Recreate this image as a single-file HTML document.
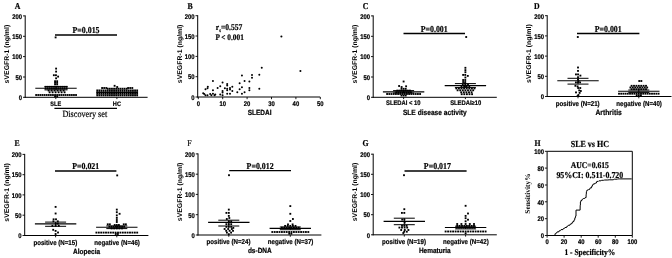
<!DOCTYPE html>
<html><head><meta charset="utf-8"><title>Figure</title>
<style>html,body{margin:0;padding:0;background:#fff}svg{display:block;text-rendering:geometricPrecision}</style></head>
<body>
<svg width="672" height="258" viewBox="0 0 672 258">
<rect width="672" height="258" fill="#fff"/>
<defs><filter id="soft" x="0" y="0" width="100%" height="100%" filterUnits="userSpaceOnUse"><feGaussianBlur stdDeviation="0.38"/></filter></defs>
<g filter="url(#soft)" stroke-linejoin="round">
<text transform="translate(17.5,8.77) scale(1,1.15)" font-size="7.8" font-family="Liberation Serif, serif" font-weight="bold" text-anchor="middle" stroke="#000" stroke-width="0.18" >A</text>
<line x1="25.2" y1="15.4" x2="25.2" y2="97.8" stroke="#000" stroke-width="1.0"/>
<line x1="23.0" y1="97.3" x2="25.2" y2="97.3" stroke="#000" stroke-width="0.9"/>
<text transform="translate(22.0,100.11) scale(1,1.15)" font-size="5.9" font-family="Liberation Sans, sans-serif" font-weight="bold" text-anchor="end" stroke="#000" stroke-width="0.18" >0</text>
<line x1="23.0" y1="77.0" x2="25.2" y2="77.0" stroke="#000" stroke-width="0.9"/>
<text transform="translate(22.0,79.76) scale(1,1.15)" font-size="5.9" font-family="Liberation Sans, sans-serif" font-weight="bold" text-anchor="end" stroke="#000" stroke-width="0.18" >50</text>
<line x1="23.0" y1="56.6" x2="25.2" y2="56.6" stroke="#000" stroke-width="0.9"/>
<text transform="translate(22.0,59.41) scale(1,1.15)" font-size="5.9" font-family="Liberation Sans, sans-serif" font-weight="bold" text-anchor="end" stroke="#000" stroke-width="0.18" >100</text>
<line x1="23.0" y1="36.3" x2="25.2" y2="36.3" stroke="#000" stroke-width="0.9"/>
<text transform="translate(22.0,39.06) scale(1,1.15)" font-size="5.9" font-family="Liberation Sans, sans-serif" font-weight="bold" text-anchor="end" stroke="#000" stroke-width="0.18" >150</text>
<line x1="23.0" y1="15.9" x2="25.2" y2="15.9" stroke="#000" stroke-width="0.9"/>
<text transform="translate(22.0,18.71) scale(1,1.15)" font-size="5.9" font-family="Liberation Sans, sans-serif" font-weight="bold" text-anchor="end" stroke="#000" stroke-width="0.18" >200</text>
<text transform="translate(9.0,54.1) rotate(-90)" font-size="6.9" font-family="Liberation Sans, sans-serif" font-weight="bold" text-anchor="middle">sVEGFR-1 (ng/ml)</text>
<line x1="24.7" y1="97.3" x2="147.6" y2="97.3" stroke="#000" stroke-width="1.0"/>
<line x1="55.8" y1="97.3" x2="55.8" y2="99.1" stroke="#000" stroke-width="0.9"/>
<line x1="116.9" y1="97.3" x2="116.9" y2="99.1" stroke="#000" stroke-width="0.9"/>
<line x1="55.0" y1="35.0" x2="117.0" y2="35.0" stroke="#000" stroke-width="1.3"/>
<text transform="translate(86.0,33.08) scale(1,1.15)" font-size="7.9" font-family="Liberation Serif, serif" font-weight="bold" text-anchor="middle" stroke="#000" stroke-width="0.18" >P=0.015</text>
<rect x="54.68" y="36.48" width="1.85" height="1.85" fill="#000"/>
<rect x="55.18" y="67.67" width="1.85" height="1.85" fill="#000"/>
<rect x="55.18" y="70.67" width="1.85" height="1.85" fill="#000"/>
<rect x="52.93" y="74.28" width="1.85" height="1.85" fill="#000"/>
<rect x="55.02" y="74.28" width="1.85" height="1.85" fill="#000"/>
<rect x="57.18" y="75.67" width="1.85" height="1.85" fill="#000"/>
<rect x="55.18" y="77.38" width="1.85" height="1.85" fill="#000"/>
<rect x="54.13" y="80.28" width="1.85" height="1.85" fill="#000"/>
<rect x="56.23" y="80.28" width="1.85" height="1.85" fill="#000"/>
<rect x="54.13" y="81.88" width="1.85" height="1.85" fill="#000"/>
<rect x="56.23" y="81.88" width="1.85" height="1.85" fill="#000"/>
<rect x="54.13" y="83.48" width="1.85" height="1.85" fill="#000"/>
<rect x="56.23" y="83.48" width="1.85" height="1.85" fill="#000"/>
<rect x="44.68" y="85.88" width="1.85" height="1.85" fill="#000"/>
<rect x="46.78" y="85.88" width="1.85" height="1.85" fill="#000"/>
<rect x="48.88" y="85.88" width="1.85" height="1.85" fill="#000"/>
<rect x="50.98" y="85.88" width="1.85" height="1.85" fill="#000"/>
<rect x="53.08" y="85.88" width="1.85" height="1.85" fill="#000"/>
<rect x="55.18" y="85.88" width="1.85" height="1.85" fill="#000"/>
<rect x="57.28" y="85.88" width="1.85" height="1.85" fill="#000"/>
<rect x="59.38" y="85.88" width="1.85" height="1.85" fill="#000"/>
<rect x="61.48" y="85.88" width="1.85" height="1.85" fill="#000"/>
<rect x="63.58" y="85.88" width="1.85" height="1.85" fill="#000"/>
<rect x="65.67" y="85.88" width="1.85" height="1.85" fill="#000"/>
<rect x="44.68" y="87.67" width="1.85" height="1.85" fill="#000"/>
<rect x="46.78" y="87.67" width="1.85" height="1.85" fill="#000"/>
<rect x="48.88" y="87.67" width="1.85" height="1.85" fill="#000"/>
<rect x="50.98" y="87.67" width="1.85" height="1.85" fill="#000"/>
<rect x="53.08" y="87.67" width="1.85" height="1.85" fill="#000"/>
<rect x="55.18" y="87.67" width="1.85" height="1.85" fill="#000"/>
<rect x="57.28" y="87.67" width="1.85" height="1.85" fill="#000"/>
<rect x="59.38" y="87.67" width="1.85" height="1.85" fill="#000"/>
<rect x="61.48" y="87.67" width="1.85" height="1.85" fill="#000"/>
<rect x="63.58" y="87.67" width="1.85" height="1.85" fill="#000"/>
<rect x="65.67" y="87.67" width="1.85" height="1.85" fill="#000"/>
<rect x="47.68" y="89.58" width="1.85" height="1.85" fill="#000"/>
<rect x="50.68" y="89.58" width="1.85" height="1.85" fill="#000"/>
<rect x="53.68" y="89.58" width="1.85" height="1.85" fill="#000"/>
<rect x="56.68" y="89.58" width="1.85" height="1.85" fill="#000"/>
<rect x="59.68" y="89.58" width="1.85" height="1.85" fill="#000"/>
<rect x="62.68" y="89.58" width="1.85" height="1.85" fill="#000"/>
<rect x="48.68" y="91.38" width="1.85" height="1.85" fill="#000"/>
<rect x="51.68" y="91.38" width="1.85" height="1.85" fill="#000"/>
<rect x="54.68" y="91.38" width="1.85" height="1.85" fill="#000"/>
<rect x="57.68" y="91.38" width="1.85" height="1.85" fill="#000"/>
<rect x="60.68" y="91.38" width="1.85" height="1.85" fill="#000"/>
<rect x="63.67" y="91.38" width="1.85" height="1.85" fill="#000"/>
<rect x="35.23" y="94.08" width="1.85" height="1.85" fill="#000"/>
<rect x="37.33" y="94.08" width="1.85" height="1.85" fill="#000"/>
<rect x="39.43" y="94.08" width="1.85" height="1.85" fill="#000"/>
<rect x="41.53" y="94.08" width="1.85" height="1.85" fill="#000"/>
<rect x="43.62" y="94.08" width="1.85" height="1.85" fill="#000"/>
<rect x="45.73" y="94.08" width="1.85" height="1.85" fill="#000"/>
<rect x="47.83" y="94.08" width="1.85" height="1.85" fill="#000"/>
<rect x="49.93" y="94.08" width="1.85" height="1.85" fill="#000"/>
<rect x="52.03" y="94.08" width="1.85" height="1.85" fill="#000"/>
<rect x="54.13" y="94.08" width="1.85" height="1.85" fill="#000"/>
<rect x="56.23" y="94.08" width="1.85" height="1.85" fill="#000"/>
<rect x="58.33" y="94.08" width="1.85" height="1.85" fill="#000"/>
<rect x="60.43" y="94.08" width="1.85" height="1.85" fill="#000"/>
<rect x="62.53" y="94.08" width="1.85" height="1.85" fill="#000"/>
<rect x="64.62" y="94.08" width="1.85" height="1.85" fill="#000"/>
<rect x="66.73" y="94.08" width="1.85" height="1.85" fill="#000"/>
<rect x="68.83" y="94.08" width="1.85" height="1.85" fill="#000"/>
<rect x="70.92" y="94.08" width="1.85" height="1.85" fill="#000"/>
<rect x="73.03" y="94.08" width="1.85" height="1.85" fill="#000"/>
<rect x="75.12" y="94.08" width="1.85" height="1.85" fill="#000"/>
<rect x="54.13" y="95.48" width="1.85" height="1.85" fill="#000"/>
<rect x="56.23" y="95.48" width="1.85" height="1.85" fill="#000"/>
<line x1="35.3" y1="88.2" x2="76.7" y2="88.2" stroke="#000" stroke-width="1.15"/>
<line x1="44.5" y1="86.6" x2="67.5" y2="86.6" stroke="#000" stroke-width="1.0"/>
<line x1="44.5" y1="89.9" x2="67.5" y2="89.9" stroke="#000" stroke-width="1.0"/>
<line x1="56.0" y1="86.6" x2="56.0" y2="89.9" stroke="#000" stroke-width="1.0"/>
<rect x="113.68" y="84.88" width="1.85" height="1.85" fill="#000"/>
<rect x="116.28" y="86.08" width="1.85" height="1.85" fill="#000"/>
<rect x="101.18" y="87.08" width="1.85" height="1.85" fill="#000"/>
<rect x="103.28" y="87.08" width="1.85" height="1.85" fill="#000"/>
<rect x="105.38" y="87.08" width="1.85" height="1.85" fill="#000"/>
<rect x="127.17" y="87.08" width="1.85" height="1.85" fill="#000"/>
<rect x="129.27" y="87.08" width="1.85" height="1.85" fill="#000"/>
<rect x="131.37" y="87.08" width="1.85" height="1.85" fill="#000"/>
<rect x="106.83" y="87.78" width="1.85" height="1.85" fill="#000"/>
<rect x="108.93" y="87.78" width="1.85" height="1.85" fill="#000"/>
<rect x="111.03" y="87.78" width="1.85" height="1.85" fill="#000"/>
<rect x="113.12" y="87.78" width="1.85" height="1.85" fill="#000"/>
<rect x="115.23" y="87.78" width="1.85" height="1.85" fill="#000"/>
<rect x="117.33" y="87.78" width="1.85" height="1.85" fill="#000"/>
<rect x="119.43" y="87.78" width="1.85" height="1.85" fill="#000"/>
<rect x="121.53" y="87.78" width="1.85" height="1.85" fill="#000"/>
<rect x="123.62" y="87.78" width="1.85" height="1.85" fill="#000"/>
<rect x="125.73" y="87.78" width="1.85" height="1.85" fill="#000"/>
<rect x="96.33" y="89.48" width="1.85" height="1.85" fill="#000"/>
<rect x="98.42" y="89.48" width="1.85" height="1.85" fill="#000"/>
<rect x="100.53" y="89.48" width="1.85" height="1.85" fill="#000"/>
<rect x="102.62" y="89.48" width="1.85" height="1.85" fill="#000"/>
<rect x="104.73" y="89.48" width="1.85" height="1.85" fill="#000"/>
<rect x="106.83" y="89.48" width="1.85" height="1.85" fill="#000"/>
<rect x="108.93" y="89.48" width="1.85" height="1.85" fill="#000"/>
<rect x="111.03" y="89.48" width="1.85" height="1.85" fill="#000"/>
<rect x="113.12" y="89.48" width="1.85" height="1.85" fill="#000"/>
<rect x="115.23" y="89.48" width="1.85" height="1.85" fill="#000"/>
<rect x="117.33" y="89.48" width="1.85" height="1.85" fill="#000"/>
<rect x="119.43" y="89.48" width="1.85" height="1.85" fill="#000"/>
<rect x="121.53" y="89.48" width="1.85" height="1.85" fill="#000"/>
<rect x="123.62" y="89.48" width="1.85" height="1.85" fill="#000"/>
<rect x="125.73" y="89.48" width="1.85" height="1.85" fill="#000"/>
<rect x="127.83" y="89.48" width="1.85" height="1.85" fill="#000"/>
<rect x="129.92" y="89.48" width="1.85" height="1.85" fill="#000"/>
<rect x="132.02" y="89.48" width="1.85" height="1.85" fill="#000"/>
<rect x="134.12" y="89.48" width="1.85" height="1.85" fill="#000"/>
<rect x="136.22" y="89.48" width="1.85" height="1.85" fill="#000"/>
<rect x="96.33" y="91.17" width="1.85" height="1.85" fill="#000"/>
<rect x="98.42" y="91.17" width="1.85" height="1.85" fill="#000"/>
<rect x="100.53" y="91.17" width="1.85" height="1.85" fill="#000"/>
<rect x="102.62" y="91.17" width="1.85" height="1.85" fill="#000"/>
<rect x="104.73" y="91.17" width="1.85" height="1.85" fill="#000"/>
<rect x="106.83" y="91.17" width="1.85" height="1.85" fill="#000"/>
<rect x="108.93" y="91.17" width="1.85" height="1.85" fill="#000"/>
<rect x="111.03" y="91.17" width="1.85" height="1.85" fill="#000"/>
<rect x="113.12" y="91.17" width="1.85" height="1.85" fill="#000"/>
<rect x="115.23" y="91.17" width="1.85" height="1.85" fill="#000"/>
<rect x="117.33" y="91.17" width="1.85" height="1.85" fill="#000"/>
<rect x="119.43" y="91.17" width="1.85" height="1.85" fill="#000"/>
<rect x="121.53" y="91.17" width="1.85" height="1.85" fill="#000"/>
<rect x="123.62" y="91.17" width="1.85" height="1.85" fill="#000"/>
<rect x="125.73" y="91.17" width="1.85" height="1.85" fill="#000"/>
<rect x="127.83" y="91.17" width="1.85" height="1.85" fill="#000"/>
<rect x="129.92" y="91.17" width="1.85" height="1.85" fill="#000"/>
<rect x="132.02" y="91.17" width="1.85" height="1.85" fill="#000"/>
<rect x="134.12" y="91.17" width="1.85" height="1.85" fill="#000"/>
<rect x="136.22" y="91.17" width="1.85" height="1.85" fill="#000"/>
<rect x="96.33" y="92.88" width="1.85" height="1.85" fill="#000"/>
<rect x="98.42" y="92.88" width="1.85" height="1.85" fill="#000"/>
<rect x="100.53" y="92.88" width="1.85" height="1.85" fill="#000"/>
<rect x="102.62" y="92.88" width="1.85" height="1.85" fill="#000"/>
<rect x="104.73" y="92.88" width="1.85" height="1.85" fill="#000"/>
<rect x="106.83" y="92.88" width="1.85" height="1.85" fill="#000"/>
<rect x="108.93" y="92.88" width="1.85" height="1.85" fill="#000"/>
<rect x="111.03" y="92.88" width="1.85" height="1.85" fill="#000"/>
<rect x="113.12" y="92.88" width="1.85" height="1.85" fill="#000"/>
<rect x="115.23" y="92.88" width="1.85" height="1.85" fill="#000"/>
<rect x="117.33" y="92.88" width="1.85" height="1.85" fill="#000"/>
<rect x="119.43" y="92.88" width="1.85" height="1.85" fill="#000"/>
<rect x="121.53" y="92.88" width="1.85" height="1.85" fill="#000"/>
<rect x="123.62" y="92.88" width="1.85" height="1.85" fill="#000"/>
<rect x="125.73" y="92.88" width="1.85" height="1.85" fill="#000"/>
<rect x="127.83" y="92.88" width="1.85" height="1.85" fill="#000"/>
<rect x="129.92" y="92.88" width="1.85" height="1.85" fill="#000"/>
<rect x="132.02" y="92.88" width="1.85" height="1.85" fill="#000"/>
<rect x="134.12" y="92.88" width="1.85" height="1.85" fill="#000"/>
<rect x="136.22" y="92.88" width="1.85" height="1.85" fill="#000"/>
<rect x="96.33" y="94.48" width="1.85" height="1.85" fill="#000"/>
<rect x="98.42" y="94.48" width="1.85" height="1.85" fill="#000"/>
<rect x="100.53" y="94.48" width="1.85" height="1.85" fill="#000"/>
<rect x="102.62" y="94.48" width="1.85" height="1.85" fill="#000"/>
<rect x="104.73" y="94.48" width="1.85" height="1.85" fill="#000"/>
<rect x="106.83" y="94.48" width="1.85" height="1.85" fill="#000"/>
<rect x="108.93" y="94.48" width="1.85" height="1.85" fill="#000"/>
<rect x="111.03" y="94.48" width="1.85" height="1.85" fill="#000"/>
<rect x="113.12" y="94.48" width="1.85" height="1.85" fill="#000"/>
<rect x="115.23" y="94.48" width="1.85" height="1.85" fill="#000"/>
<rect x="117.33" y="94.48" width="1.85" height="1.85" fill="#000"/>
<rect x="119.43" y="94.48" width="1.85" height="1.85" fill="#000"/>
<rect x="121.53" y="94.48" width="1.85" height="1.85" fill="#000"/>
<rect x="123.62" y="94.48" width="1.85" height="1.85" fill="#000"/>
<rect x="125.73" y="94.48" width="1.85" height="1.85" fill="#000"/>
<rect x="127.83" y="94.48" width="1.85" height="1.85" fill="#000"/>
<rect x="129.92" y="94.48" width="1.85" height="1.85" fill="#000"/>
<rect x="132.02" y="94.48" width="1.85" height="1.85" fill="#000"/>
<rect x="134.12" y="94.48" width="1.85" height="1.85" fill="#000"/>
<rect x="136.22" y="94.48" width="1.85" height="1.85" fill="#000"/>
<line x1="96.5" y1="92.6" x2="138.0" y2="92.6" stroke="#000" stroke-width="1.0"/>
<text transform="translate(55.8,106.40) scale(1,1.15)" font-size="5.6" font-family="Liberation Sans, sans-serif" font-weight="bold" text-anchor="middle" stroke="#000" stroke-width="0.18" >SLE</text>
<text transform="translate(116.9,106.40) scale(1,1.15)" font-size="5.6" font-family="Liberation Sans, sans-serif" font-weight="bold" text-anchor="middle" stroke="#000" stroke-width="0.18" >HC</text>
<line x1="54.4" y1="108.4" x2="117.0" y2="108.4" stroke="#000" stroke-width="1.1"/>
<text transform="translate(84.8,116.79) scale(1,1.15)" font-size="8.2" font-family="Liberation Serif, serif" text-anchor="middle" stroke="#000" stroke-width="0.18" >Discovery set</text>
<text transform="translate(190.0,8.77) scale(1,1.15)" font-size="7.8" font-family="Liberation Serif, serif" font-weight="bold" text-anchor="middle" stroke="#000" stroke-width="0.18" >B</text>
<line x1="197.7" y1="15.2" x2="197.7" y2="97.5" stroke="#000" stroke-width="1.0"/>
<line x1="195.5" y1="97.0" x2="197.7" y2="97.0" stroke="#000" stroke-width="0.9"/>
<text transform="translate(194.5,99.81) scale(1,1.15)" font-size="5.9" font-family="Liberation Sans, sans-serif" font-weight="bold" text-anchor="end" stroke="#000" stroke-width="0.18" >0</text>
<line x1="195.5" y1="76.7" x2="197.7" y2="76.7" stroke="#000" stroke-width="0.9"/>
<text transform="translate(194.5,79.48) scale(1,1.15)" font-size="5.9" font-family="Liberation Sans, sans-serif" font-weight="bold" text-anchor="end" stroke="#000" stroke-width="0.18" >50</text>
<line x1="195.5" y1="56.4" x2="197.7" y2="56.4" stroke="#000" stroke-width="0.9"/>
<text transform="translate(194.5,59.16) scale(1,1.15)" font-size="5.9" font-family="Liberation Sans, sans-serif" font-weight="bold" text-anchor="end" stroke="#000" stroke-width="0.18" >100</text>
<line x1="195.5" y1="36.0" x2="197.7" y2="36.0" stroke="#000" stroke-width="0.9"/>
<text transform="translate(194.5,38.83) scale(1,1.15)" font-size="5.9" font-family="Liberation Sans, sans-serif" font-weight="bold" text-anchor="end" stroke="#000" stroke-width="0.18" >150</text>
<line x1="195.5" y1="15.7" x2="197.7" y2="15.7" stroke="#000" stroke-width="0.9"/>
<text transform="translate(194.5,18.51) scale(1,1.15)" font-size="5.9" font-family="Liberation Sans, sans-serif" font-weight="bold" text-anchor="end" stroke="#000" stroke-width="0.18" >200</text>
<text transform="translate(182.0,53.9) rotate(-90)" font-size="6.9" font-family="Liberation Sans, sans-serif" font-weight="bold" text-anchor="middle">sVEGFR-1 (ng/ml)</text>
<line x1="197.2" y1="97.0" x2="320.2" y2="97.0" stroke="#000" stroke-width="1.0"/>
<line x1="198.3" y1="97.0" x2="198.3" y2="99.2" stroke="#000" stroke-width="0.9"/>
<text transform="translate(198.3,105.71) scale(1,1.15)" font-size="5.9" font-family="Liberation Sans, sans-serif" font-weight="bold" text-anchor="middle" stroke="#000" stroke-width="0.18" >0</text>
<line x1="222.7" y1="97.0" x2="222.7" y2="99.2" stroke="#000" stroke-width="0.9"/>
<text transform="translate(222.7,105.71) scale(1,1.15)" font-size="5.9" font-family="Liberation Sans, sans-serif" font-weight="bold" text-anchor="middle" stroke="#000" stroke-width="0.18" >10</text>
<line x1="247.1" y1="97.0" x2="247.1" y2="99.2" stroke="#000" stroke-width="0.9"/>
<text transform="translate(247.1,105.71) scale(1,1.15)" font-size="5.9" font-family="Liberation Sans, sans-serif" font-weight="bold" text-anchor="middle" stroke="#000" stroke-width="0.18" >20</text>
<line x1="271.5" y1="97.0" x2="271.5" y2="99.2" stroke="#000" stroke-width="0.9"/>
<text transform="translate(271.5,105.71) scale(1,1.15)" font-size="5.9" font-family="Liberation Sans, sans-serif" font-weight="bold" text-anchor="middle" stroke="#000" stroke-width="0.18" >30</text>
<line x1="295.9" y1="97.0" x2="295.9" y2="99.2" stroke="#000" stroke-width="0.9"/>
<text transform="translate(295.9,105.71) scale(1,1.15)" font-size="5.9" font-family="Liberation Sans, sans-serif" font-weight="bold" text-anchor="middle" stroke="#000" stroke-width="0.18" >40</text>
<line x1="320.3" y1="97.0" x2="320.3" y2="99.2" stroke="#000" stroke-width="0.9"/>
<text transform="translate(320.3,105.71) scale(1,1.15)" font-size="5.9" font-family="Liberation Sans, sans-serif" font-weight="bold" text-anchor="middle" stroke="#000" stroke-width="0.18" >50</text>
<text transform="translate(259.6,114.53) scale(1,1.15)" font-size="6.5" font-family="Liberation Sans, sans-serif" font-weight="bold" text-anchor="middle" stroke="#000" stroke-width="0.18" >SLEDAI</text>
<text transform="translate(215.8,29.8) scale(1,1.15)" font-size="7.6" font-family="Liberation Serif, serif" font-weight="bold" stroke="#000" stroke-width="0.18">r<tspan font-size="4.5" dy="1.5">s</tspan><tspan dy="-1.5">=0.557</tspan></text>
<text transform="translate(215.4,40.06) scale(1,1.15)" font-size="7.35" font-family="Liberation Serif, serif" font-weight="bold" text-anchor="start" stroke="#000" stroke-width="0.18" >P &lt; 0.001</text>
<circle cx="203.18" cy="93.33" r="1.0" fill="#000"/>
<circle cx="204.26" cy="94.11" r="1.0" fill="#000"/>
<circle cx="205.50" cy="89.15" r="1.0" fill="#000"/>
<circle cx="205.50" cy="95.35" r="1.0" fill="#000"/>
<circle cx="207.52" cy="88.22" r="1.0" fill="#000"/>
<circle cx="207.83" cy="86.67" r="1.0" fill="#000"/>
<circle cx="207.52" cy="95.35" r="1.0" fill="#000"/>
<circle cx="210.16" cy="94.11" r="1.0" fill="#000"/>
<circle cx="211.40" cy="95.35" r="1.0" fill="#000"/>
<circle cx="212.95" cy="80.93" r="1.0" fill="#000"/>
<circle cx="212.95" cy="90.23" r="1.0" fill="#000"/>
<circle cx="212.95" cy="93.80" r="1.0" fill="#000"/>
<circle cx="214.50" cy="95.35" r="1.0" fill="#000"/>
<circle cx="215.27" cy="94.42" r="1.0" fill="#000"/>
<circle cx="217.60" cy="87.91" r="1.0" fill="#000"/>
<circle cx="220.23" cy="86.36" r="1.0" fill="#000"/>
<circle cx="220.23" cy="94.42" r="1.0" fill="#000"/>
<circle cx="222.56" cy="82.48" r="1.0" fill="#000"/>
<circle cx="222.56" cy="91.01" r="1.0" fill="#000"/>
<circle cx="222.56" cy="92.56" r="1.0" fill="#000"/>
<circle cx="222.56" cy="95.35" r="1.0" fill="#000"/>
<circle cx="224.88" cy="88.22" r="1.0" fill="#000"/>
<circle cx="227.21" cy="84.03" r="1.0" fill="#000"/>
<circle cx="227.21" cy="85.58" r="1.0" fill="#000"/>
<circle cx="227.21" cy="88.68" r="1.0" fill="#000"/>
<circle cx="227.21" cy="90.23" r="1.0" fill="#000"/>
<circle cx="227.21" cy="93.80" r="1.0" fill="#000"/>
<circle cx="230.00" cy="87.91" r="1.0" fill="#000"/>
<circle cx="230.00" cy="89.46" r="1.0" fill="#000"/>
<circle cx="230.00" cy="93.80" r="1.0" fill="#000"/>
<circle cx="232.33" cy="86.67" r="1.0" fill="#000"/>
<circle cx="232.33" cy="91.01" r="1.0" fill="#000"/>
<circle cx="237.29" cy="92.25" r="1.0" fill="#000"/>
<circle cx="239.61" cy="83.26" r="1.0" fill="#000"/>
<circle cx="239.61" cy="89.15" r="1.0" fill="#000"/>
<circle cx="241.94" cy="75.50" r="1.0" fill="#000"/>
<circle cx="241.94" cy="87.13" r="1.0" fill="#000"/>
<circle cx="241.94" cy="93.80" r="1.0" fill="#000"/>
<circle cx="244.57" cy="80.93" r="1.0" fill="#000"/>
<circle cx="244.57" cy="92.25" r="1.0" fill="#000"/>
<circle cx="249.38" cy="81.40" r="1.0" fill="#000"/>
<circle cx="249.38" cy="87.91" r="1.0" fill="#000"/>
<circle cx="249.38" cy="90.23" r="1.0" fill="#000"/>
<circle cx="252.02" cy="75.04" r="1.0" fill="#000"/>
<circle cx="252.02" cy="77.83" r="1.0" fill="#000"/>
<circle cx="259.30" cy="74.73" r="1.0" fill="#000"/>
<circle cx="259.30" cy="88.68" r="1.0" fill="#000"/>
<circle cx="261.78" cy="67.75" r="1.0" fill="#000"/>
<circle cx="281.40" cy="36.50" r="1.05" fill="#000"/>
<circle cx="300.40" cy="71.00" r="1.05" fill="#000"/>
<text transform="translate(365.5,8.77) scale(1,1.15)" font-size="7.8" font-family="Liberation Serif, serif" font-weight="bold" text-anchor="middle" stroke="#000" stroke-width="0.18" >C</text>
<line x1="373.2" y1="15.4" x2="373.2" y2="97.8" stroke="#000" stroke-width="1.0"/>
<line x1="371.0" y1="97.3" x2="373.2" y2="97.3" stroke="#000" stroke-width="0.9"/>
<text transform="translate(370.0,100.11) scale(1,1.15)" font-size="5.9" font-family="Liberation Sans, sans-serif" font-weight="bold" text-anchor="end" stroke="#000" stroke-width="0.18" >0</text>
<line x1="371.0" y1="77.0" x2="373.2" y2="77.0" stroke="#000" stroke-width="0.9"/>
<text transform="translate(370.0,79.76) scale(1,1.15)" font-size="5.9" font-family="Liberation Sans, sans-serif" font-weight="bold" text-anchor="end" stroke="#000" stroke-width="0.18" >50</text>
<line x1="371.0" y1="56.6" x2="373.2" y2="56.6" stroke="#000" stroke-width="0.9"/>
<text transform="translate(370.0,59.41) scale(1,1.15)" font-size="5.9" font-family="Liberation Sans, sans-serif" font-weight="bold" text-anchor="end" stroke="#000" stroke-width="0.18" >100</text>
<line x1="371.0" y1="36.3" x2="373.2" y2="36.3" stroke="#000" stroke-width="0.9"/>
<text transform="translate(370.0,39.06) scale(1,1.15)" font-size="5.9" font-family="Liberation Sans, sans-serif" font-weight="bold" text-anchor="end" stroke="#000" stroke-width="0.18" >150</text>
<line x1="371.0" y1="15.9" x2="373.2" y2="15.9" stroke="#000" stroke-width="0.9"/>
<text transform="translate(370.0,18.71) scale(1,1.15)" font-size="5.9" font-family="Liberation Sans, sans-serif" font-weight="bold" text-anchor="end" stroke="#000" stroke-width="0.18" >200</text>
<text transform="translate(357.0,54.1) rotate(-90)" font-size="6.9" font-family="Liberation Sans, sans-serif" font-weight="bold" text-anchor="middle">sVEGFR-1 (ng/ml)</text>
<line x1="372.7" y1="97.3" x2="496.8" y2="97.3" stroke="#000" stroke-width="1.0"/>
<line x1="403.6" y1="97.3" x2="403.6" y2="99.1" stroke="#000" stroke-width="0.9"/>
<line x1="465.4" y1="97.3" x2="465.4" y2="99.1" stroke="#000" stroke-width="0.9"/>
<line x1="403.5" y1="33.5" x2="465.0" y2="33.5" stroke="#000" stroke-width="1.3"/>
<text transform="translate(434.2,32.28) scale(1,1.15)" font-size="7.9" font-family="Liberation Serif, serif" font-weight="bold" text-anchor="middle" stroke="#000" stroke-width="0.18" >P=0.001</text>
<rect x="465.27" y="36.08" width="1.85" height="1.85" fill="#000"/>
<rect x="402.68" y="80.58" width="1.85" height="1.85" fill="#000"/>
<rect x="398.18" y="85.08" width="1.85" height="1.85" fill="#000"/>
<rect x="405.18" y="85.38" width="1.85" height="1.85" fill="#000"/>
<rect x="400.68" y="86.08" width="1.85" height="1.85" fill="#000"/>
<rect x="400.57" y="87.88" width="1.85" height="1.85" fill="#000"/>
<rect x="402.68" y="87.88" width="1.85" height="1.85" fill="#000"/>
<rect x="404.78" y="87.88" width="1.85" height="1.85" fill="#000"/>
<rect x="396.38" y="89.67" width="1.85" height="1.85" fill="#000"/>
<rect x="398.48" y="89.67" width="1.85" height="1.85" fill="#000"/>
<rect x="400.57" y="89.67" width="1.85" height="1.85" fill="#000"/>
<rect x="402.68" y="89.67" width="1.85" height="1.85" fill="#000"/>
<rect x="404.78" y="89.67" width="1.85" height="1.85" fill="#000"/>
<rect x="406.88" y="89.67" width="1.85" height="1.85" fill="#000"/>
<rect x="408.98" y="89.67" width="1.85" height="1.85" fill="#000"/>
<rect x="395.32" y="91.38" width="1.85" height="1.85" fill="#000"/>
<rect x="397.43" y="91.38" width="1.85" height="1.85" fill="#000"/>
<rect x="399.53" y="91.38" width="1.85" height="1.85" fill="#000"/>
<rect x="401.62" y="91.38" width="1.85" height="1.85" fill="#000"/>
<rect x="403.73" y="91.38" width="1.85" height="1.85" fill="#000"/>
<rect x="405.82" y="91.38" width="1.85" height="1.85" fill="#000"/>
<rect x="407.93" y="91.38" width="1.85" height="1.85" fill="#000"/>
<rect x="410.03" y="91.38" width="1.85" height="1.85" fill="#000"/>
<rect x="386.18" y="93.08" width="1.85" height="1.85" fill="#000"/>
<rect x="388.38" y="93.08" width="1.85" height="1.85" fill="#000"/>
<rect x="390.57" y="93.08" width="1.85" height="1.85" fill="#000"/>
<rect x="392.78" y="93.08" width="1.85" height="1.85" fill="#000"/>
<rect x="394.98" y="93.08" width="1.85" height="1.85" fill="#000"/>
<rect x="397.18" y="93.08" width="1.85" height="1.85" fill="#000"/>
<rect x="399.38" y="93.08" width="1.85" height="1.85" fill="#000"/>
<rect x="401.57" y="93.08" width="1.85" height="1.85" fill="#000"/>
<rect x="403.78" y="93.08" width="1.85" height="1.85" fill="#000"/>
<rect x="405.98" y="93.08" width="1.85" height="1.85" fill="#000"/>
<rect x="408.18" y="93.08" width="1.85" height="1.85" fill="#000"/>
<rect x="410.38" y="93.08" width="1.85" height="1.85" fill="#000"/>
<rect x="412.57" y="93.08" width="1.85" height="1.85" fill="#000"/>
<rect x="414.78" y="93.08" width="1.85" height="1.85" fill="#000"/>
<rect x="416.98" y="93.08" width="1.85" height="1.85" fill="#000"/>
<rect x="419.18" y="93.08" width="1.85" height="1.85" fill="#000"/>
<rect x="400.57" y="94.58" width="1.85" height="1.85" fill="#000"/>
<rect x="402.68" y="94.58" width="1.85" height="1.85" fill="#000"/>
<rect x="404.78" y="94.58" width="1.85" height="1.85" fill="#000"/>
<line x1="382.9" y1="91.8" x2="424.3" y2="91.8" stroke="#000" stroke-width="1.15"/>
<line x1="393.1" y1="90.6" x2="414.1" y2="90.6" stroke="#000" stroke-width="1.0"/>
<line x1="393.1" y1="93.0" x2="414.1" y2="93.0" stroke="#000" stroke-width="1.0"/>
<line x1="403.6" y1="90.6" x2="403.6" y2="93.0" stroke="#000" stroke-width="1.0"/>
<rect x="464.47" y="66.88" width="1.85" height="1.85" fill="#000"/>
<rect x="464.47" y="69.17" width="1.85" height="1.85" fill="#000"/>
<rect x="464.47" y="71.28" width="1.85" height="1.85" fill="#000"/>
<rect x="462.22" y="73.98" width="1.85" height="1.85" fill="#000"/>
<rect x="464.32" y="73.98" width="1.85" height="1.85" fill="#000"/>
<rect x="466.87" y="74.98" width="1.85" height="1.85" fill="#000"/>
<rect x="464.47" y="76.58" width="1.85" height="1.85" fill="#000"/>
<rect x="462.22" y="79.08" width="1.85" height="1.85" fill="#000"/>
<rect x="464.32" y="79.08" width="1.85" height="1.85" fill="#000"/>
<rect x="462.22" y="81.08" width="1.85" height="1.85" fill="#000"/>
<rect x="464.32" y="81.08" width="1.85" height="1.85" fill="#000"/>
<rect x="463.97" y="82.48" width="1.85" height="1.85" fill="#000"/>
<rect x="461.87" y="83.67" width="1.85" height="1.85" fill="#000"/>
<rect x="464.47" y="83.67" width="1.85" height="1.85" fill="#000"/>
<rect x="467.07" y="83.67" width="1.85" height="1.85" fill="#000"/>
<rect x="460.57" y="85.67" width="1.85" height="1.85" fill="#000"/>
<rect x="463.17" y="85.67" width="1.85" height="1.85" fill="#000"/>
<rect x="465.77" y="85.67" width="1.85" height="1.85" fill="#000"/>
<rect x="468.37" y="85.67" width="1.85" height="1.85" fill="#000"/>
<rect x="455.37" y="87.48" width="1.85" height="1.85" fill="#000"/>
<rect x="457.97" y="87.48" width="1.85" height="1.85" fill="#000"/>
<rect x="460.57" y="87.48" width="1.85" height="1.85" fill="#000"/>
<rect x="463.17" y="87.48" width="1.85" height="1.85" fill="#000"/>
<rect x="465.77" y="87.48" width="1.85" height="1.85" fill="#000"/>
<rect x="468.37" y="87.48" width="1.85" height="1.85" fill="#000"/>
<rect x="470.97" y="87.48" width="1.85" height="1.85" fill="#000"/>
<rect x="473.57" y="87.48" width="1.85" height="1.85" fill="#000"/>
<rect x="456.67" y="89.38" width="1.85" height="1.85" fill="#000"/>
<rect x="459.27" y="89.38" width="1.85" height="1.85" fill="#000"/>
<rect x="461.87" y="89.38" width="1.85" height="1.85" fill="#000"/>
<rect x="464.47" y="89.38" width="1.85" height="1.85" fill="#000"/>
<rect x="467.07" y="89.38" width="1.85" height="1.85" fill="#000"/>
<rect x="469.67" y="89.38" width="1.85" height="1.85" fill="#000"/>
<rect x="472.27" y="89.38" width="1.85" height="1.85" fill="#000"/>
<rect x="460.27" y="91.38" width="1.85" height="1.85" fill="#000"/>
<rect x="462.87" y="91.38" width="1.85" height="1.85" fill="#000"/>
<rect x="465.47" y="91.38" width="1.85" height="1.85" fill="#000"/>
<rect x="468.07" y="91.38" width="1.85" height="1.85" fill="#000"/>
<rect x="470.67" y="91.38" width="1.85" height="1.85" fill="#000"/>
<rect x="460.77" y="93.28" width="1.85" height="1.85" fill="#000"/>
<rect x="463.37" y="93.28" width="1.85" height="1.85" fill="#000"/>
<rect x="465.97" y="93.28" width="1.85" height="1.85" fill="#000"/>
<rect x="468.57" y="93.28" width="1.85" height="1.85" fill="#000"/>
<rect x="471.17" y="93.28" width="1.85" height="1.85" fill="#000"/>
<line x1="444.7" y1="85.6" x2="486.1" y2="85.6" stroke="#000" stroke-width="1.15"/>
<line x1="454.9" y1="83.6" x2="475.9" y2="83.6" stroke="#000" stroke-width="1.0"/>
<line x1="454.9" y1="87.6" x2="475.9" y2="87.6" stroke="#000" stroke-width="1.0"/>
<line x1="465.4" y1="83.6" x2="465.4" y2="87.6" stroke="#000" stroke-width="1.0"/>
<text transform="translate(403.3,105.40) scale(1,1.15)" font-size="5.85" font-family="Liberation Sans, sans-serif" font-weight="bold" text-anchor="middle" stroke="#000" stroke-width="0.18" >SLEDAI &lt; 10</text>
<text transform="translate(465.7,105.40) scale(1,1.15)" font-size="5.85" font-family="Liberation Sans, sans-serif" font-weight="bold" text-anchor="middle" stroke="#000" stroke-width="0.18" >SLEDAI≥10</text>
<text transform="translate(434.8,115.33) scale(1,1.15)" font-size="6.65" font-family="Liberation Sans, sans-serif" font-weight="bold" text-anchor="middle" stroke="#000" stroke-width="0.18" >SLE disease activity</text>
<text transform="translate(536.8,8.77) scale(1,1.15)" font-size="7.8" font-family="Liberation Serif, serif" font-weight="bold" text-anchor="middle" stroke="#000" stroke-width="0.18" >D</text>
<line x1="547.2" y1="15.2" x2="547.2" y2="97.0" stroke="#000" stroke-width="1.0"/>
<line x1="545.0" y1="96.5" x2="547.2" y2="96.5" stroke="#000" stroke-width="0.9"/>
<text transform="translate(544.0,99.31) scale(1,1.15)" font-size="5.9" font-family="Liberation Sans, sans-serif" font-weight="bold" text-anchor="end" stroke="#000" stroke-width="0.18" >0</text>
<line x1="545.0" y1="76.3" x2="547.2" y2="76.3" stroke="#000" stroke-width="0.9"/>
<text transform="translate(544.0,79.11) scale(1,1.15)" font-size="5.9" font-family="Liberation Sans, sans-serif" font-weight="bold" text-anchor="end" stroke="#000" stroke-width="0.18" >50</text>
<line x1="545.0" y1="56.1" x2="547.2" y2="56.1" stroke="#000" stroke-width="0.9"/>
<text transform="translate(544.0,58.91) scale(1,1.15)" font-size="5.9" font-family="Liberation Sans, sans-serif" font-weight="bold" text-anchor="end" stroke="#000" stroke-width="0.18" >100</text>
<line x1="545.0" y1="35.9" x2="547.2" y2="35.9" stroke="#000" stroke-width="0.9"/>
<text transform="translate(544.0,38.71) scale(1,1.15)" font-size="5.9" font-family="Liberation Sans, sans-serif" font-weight="bold" text-anchor="end" stroke="#000" stroke-width="0.18" >150</text>
<line x1="545.0" y1="15.7" x2="547.2" y2="15.7" stroke="#000" stroke-width="0.9"/>
<text transform="translate(544.0,18.51) scale(1,1.15)" font-size="5.9" font-family="Liberation Sans, sans-serif" font-weight="bold" text-anchor="end" stroke="#000" stroke-width="0.18" >200</text>
<text transform="translate(531.0,53.6) rotate(-90)" font-size="6.9" font-family="Liberation Sans, sans-serif" font-weight="bold" text-anchor="middle">sVEGFR-1 (ng/ml)</text>
<line x1="546.7" y1="96.5" x2="671.5" y2="96.5" stroke="#000" stroke-width="1.0"/>
<line x1="578.0" y1="96.5" x2="578.0" y2="98.3" stroke="#000" stroke-width="0.9"/>
<line x1="638.8" y1="96.5" x2="638.8" y2="98.3" stroke="#000" stroke-width="0.9"/>
<line x1="577.0" y1="33.5" x2="639.4" y2="33.5" stroke="#000" stroke-width="1.3"/>
<text transform="translate(608.2,32.28) scale(1,1.15)" font-size="7.9" font-family="Liberation Serif, serif" font-weight="bold" text-anchor="middle" stroke="#000" stroke-width="0.18" >P=0.001</text>
<rect x="576.88" y="36.08" width="1.85" height="1.85" fill="#000"/>
<rect x="577.08" y="66.58" width="1.85" height="1.85" fill="#000"/>
<rect x="577.08" y="69.98" width="1.85" height="1.85" fill="#000"/>
<rect x="575.03" y="73.48" width="1.85" height="1.85" fill="#000"/>
<rect x="577.12" y="73.48" width="1.85" height="1.85" fill="#000"/>
<rect x="579.48" y="74.67" width="1.85" height="1.85" fill="#000"/>
<rect x="577.08" y="76.28" width="1.85" height="1.85" fill="#000"/>
<rect x="577.08" y="78.48" width="1.85" height="1.85" fill="#000"/>
<rect x="577.58" y="80.28" width="1.85" height="1.85" fill="#000"/>
<rect x="574.98" y="81.48" width="1.85" height="1.85" fill="#000"/>
<rect x="577.08" y="81.48" width="1.85" height="1.85" fill="#000"/>
<rect x="579.18" y="81.48" width="1.85" height="1.85" fill="#000"/>
<rect x="574.48" y="84.88" width="1.85" height="1.85" fill="#000"/>
<rect x="576.68" y="85.48" width="1.85" height="1.85" fill="#000"/>
<rect x="577.23" y="87.08" width="1.85" height="1.85" fill="#000"/>
<rect x="579.33" y="87.08" width="1.85" height="1.85" fill="#000"/>
<rect x="578.28" y="89.48" width="1.85" height="1.85" fill="#000"/>
<rect x="579.88" y="90.08" width="1.85" height="1.85" fill="#000"/>
<rect x="575.08" y="91.48" width="1.85" height="1.85" fill="#000"/>
<rect x="578.68" y="91.98" width="1.85" height="1.85" fill="#000"/>
<rect x="577.48" y="94.08" width="1.85" height="1.85" fill="#000"/>
<rect x="576.68" y="95.08" width="1.85" height="1.85" fill="#000"/>
<line x1="557.3" y1="80.7" x2="598.7" y2="80.7" stroke="#000" stroke-width="1.15"/>
<line x1="567.5" y1="78.3" x2="588.5" y2="78.3" stroke="#000" stroke-width="1.0"/>
<line x1="567.5" y1="84.1" x2="588.5" y2="84.1" stroke="#000" stroke-width="1.0"/>
<line x1="578.0" y1="78.3" x2="578.0" y2="84.1" stroke="#000" stroke-width="1.0"/>
<rect x="638.33" y="80.08" width="1.85" height="1.85" fill="#000"/>
<rect x="640.42" y="80.08" width="1.85" height="1.85" fill="#000"/>
<rect x="630.67" y="84.88" width="1.85" height="1.85" fill="#000"/>
<rect x="633.08" y="84.88" width="1.85" height="1.85" fill="#000"/>
<rect x="635.48" y="84.88" width="1.85" height="1.85" fill="#000"/>
<rect x="637.88" y="84.88" width="1.85" height="1.85" fill="#000"/>
<rect x="640.27" y="84.88" width="1.85" height="1.85" fill="#000"/>
<rect x="642.67" y="84.88" width="1.85" height="1.85" fill="#000"/>
<rect x="645.08" y="84.88" width="1.85" height="1.85" fill="#000"/>
<rect x="629.48" y="86.58" width="1.85" height="1.85" fill="#000"/>
<rect x="631.88" y="86.58" width="1.85" height="1.85" fill="#000"/>
<rect x="634.27" y="86.58" width="1.85" height="1.85" fill="#000"/>
<rect x="636.67" y="86.58" width="1.85" height="1.85" fill="#000"/>
<rect x="639.08" y="86.58" width="1.85" height="1.85" fill="#000"/>
<rect x="641.48" y="86.58" width="1.85" height="1.85" fill="#000"/>
<rect x="643.88" y="86.58" width="1.85" height="1.85" fill="#000"/>
<rect x="646.27" y="86.58" width="1.85" height="1.85" fill="#000"/>
<rect x="630.67" y="88.28" width="1.85" height="1.85" fill="#000"/>
<rect x="633.08" y="88.28" width="1.85" height="1.85" fill="#000"/>
<rect x="635.48" y="88.28" width="1.85" height="1.85" fill="#000"/>
<rect x="637.88" y="88.28" width="1.85" height="1.85" fill="#000"/>
<rect x="640.27" y="88.28" width="1.85" height="1.85" fill="#000"/>
<rect x="642.67" y="88.28" width="1.85" height="1.85" fill="#000"/>
<rect x="645.08" y="88.28" width="1.85" height="1.85" fill="#000"/>
<rect x="618.08" y="92.78" width="1.85" height="1.85" fill="#000"/>
<rect x="620.27" y="92.78" width="1.85" height="1.85" fill="#000"/>
<rect x="622.48" y="92.78" width="1.85" height="1.85" fill="#000"/>
<rect x="624.67" y="92.78" width="1.85" height="1.85" fill="#000"/>
<rect x="626.88" y="92.78" width="1.85" height="1.85" fill="#000"/>
<rect x="629.08" y="92.78" width="1.85" height="1.85" fill="#000"/>
<rect x="631.27" y="92.78" width="1.85" height="1.85" fill="#000"/>
<rect x="633.48" y="92.78" width="1.85" height="1.85" fill="#000"/>
<rect x="635.67" y="92.78" width="1.85" height="1.85" fill="#000"/>
<rect x="637.88" y="92.78" width="1.85" height="1.85" fill="#000"/>
<rect x="640.08" y="92.78" width="1.85" height="1.85" fill="#000"/>
<rect x="642.27" y="92.78" width="1.85" height="1.85" fill="#000"/>
<rect x="644.48" y="92.78" width="1.85" height="1.85" fill="#000"/>
<rect x="646.67" y="92.78" width="1.85" height="1.85" fill="#000"/>
<rect x="648.88" y="92.78" width="1.85" height="1.85" fill="#000"/>
<rect x="651.08" y="92.78" width="1.85" height="1.85" fill="#000"/>
<rect x="653.27" y="92.78" width="1.85" height="1.85" fill="#000"/>
<rect x="655.48" y="92.78" width="1.85" height="1.85" fill="#000"/>
<rect x="657.67" y="92.78" width="1.85" height="1.85" fill="#000"/>
<rect x="635.77" y="94.38" width="1.85" height="1.85" fill="#000"/>
<rect x="637.88" y="94.38" width="1.85" height="1.85" fill="#000"/>
<rect x="639.98" y="94.38" width="1.85" height="1.85" fill="#000"/>
<line x1="618.1" y1="91.2" x2="659.5" y2="91.2" stroke="#000" stroke-width="1.15"/>
<line x1="628.3" y1="90.0" x2="649.3" y2="90.0" stroke="#000" stroke-width="1.0"/>
<line x1="628.3" y1="92.4" x2="649.3" y2="92.4" stroke="#000" stroke-width="1.0"/>
<line x1="638.8" y1="90.0" x2="638.8" y2="92.4" stroke="#000" stroke-width="1.0"/>
<text transform="translate(577.7,106.22) scale(1,1.15)" font-size="6.15" font-family="Liberation Sans, sans-serif" font-weight="bold" text-anchor="middle" stroke="#000" stroke-width="0.18" >positive (N=21)</text>
<text transform="translate(639.1,106.22) scale(1,1.15)" font-size="6.15" font-family="Liberation Sans, sans-serif" font-weight="bold" text-anchor="middle" stroke="#000" stroke-width="0.18" >negative (N=40)</text>
<text transform="translate(608.6,115.24) scale(1,1.15)" font-size="6.8" font-family="Liberation Sans, sans-serif" font-weight="bold" text-anchor="middle" stroke="#000" stroke-width="0.18" >Arthritis</text>
<text transform="translate(17.2,145.67) scale(1,1.15)" font-size="7.8" font-family="Liberation Serif, serif" font-weight="bold" text-anchor="middle" stroke="#000" stroke-width="0.18" >E</text>
<line x1="24.7" y1="153.9" x2="24.7" y2="236.0" stroke="#000" stroke-width="1.0"/>
<line x1="22.5" y1="235.5" x2="24.7" y2="235.5" stroke="#000" stroke-width="0.9"/>
<text transform="translate(21.5,238.31) scale(1,1.15)" font-size="5.9" font-family="Liberation Sans, sans-serif" font-weight="bold" text-anchor="end" stroke="#000" stroke-width="0.18" >0</text>
<line x1="22.5" y1="215.2" x2="24.7" y2="215.2" stroke="#000" stroke-width="0.9"/>
<text transform="translate(21.5,218.03) scale(1,1.15)" font-size="5.9" font-family="Liberation Sans, sans-serif" font-weight="bold" text-anchor="end" stroke="#000" stroke-width="0.18" >50</text>
<line x1="22.5" y1="194.9" x2="24.7" y2="194.9" stroke="#000" stroke-width="0.9"/>
<text transform="translate(21.5,197.76) scale(1,1.15)" font-size="5.9" font-family="Liberation Sans, sans-serif" font-weight="bold" text-anchor="end" stroke="#000" stroke-width="0.18" >100</text>
<line x1="22.5" y1="174.7" x2="24.7" y2="174.7" stroke="#000" stroke-width="0.9"/>
<text transform="translate(21.5,177.48) scale(1,1.15)" font-size="5.9" font-family="Liberation Sans, sans-serif" font-weight="bold" text-anchor="end" stroke="#000" stroke-width="0.18" >150</text>
<line x1="22.5" y1="154.4" x2="24.7" y2="154.4" stroke="#000" stroke-width="0.9"/>
<text transform="translate(21.5,157.21) scale(1,1.15)" font-size="5.9" font-family="Liberation Sans, sans-serif" font-weight="bold" text-anchor="end" stroke="#000" stroke-width="0.18" >200</text>
<text transform="translate(9.0,192.4) rotate(-90)" font-size="6.9" font-family="Liberation Sans, sans-serif" font-weight="bold" text-anchor="middle">sVEGFR-1 (ng/ml)</text>
<line x1="24.2" y1="235.5" x2="148.4" y2="235.5" stroke="#000" stroke-width="1.0"/>
<line x1="55.6" y1="235.5" x2="55.6" y2="237.3" stroke="#000" stroke-width="0.9"/>
<line x1="116.8" y1="235.5" x2="116.8" y2="237.3" stroke="#000" stroke-width="0.9"/>
<line x1="55.0" y1="171.0" x2="116.4" y2="171.0" stroke="#000" stroke-width="1.3"/>
<text transform="translate(85.7,169.48) scale(1,1.15)" font-size="7.9" font-family="Liberation Serif, serif" font-weight="bold" text-anchor="middle" stroke="#000" stroke-width="0.18" >P=0.021</text>
<rect x="116.28" y="174.47" width="1.85" height="1.85" fill="#000"/>
<rect x="54.68" y="205.97" width="1.85" height="1.85" fill="#000"/>
<rect x="54.68" y="212.57" width="1.85" height="1.85" fill="#000"/>
<rect x="52.68" y="218.38" width="1.85" height="1.85" fill="#000"/>
<rect x="55.08" y="218.38" width="1.85" height="1.85" fill="#000"/>
<rect x="52.48" y="220.38" width="1.85" height="1.85" fill="#000"/>
<rect x="56.88" y="220.38" width="1.85" height="1.85" fill="#000"/>
<rect x="54.83" y="222.67" width="1.85" height="1.85" fill="#000"/>
<rect x="56.93" y="222.67" width="1.85" height="1.85" fill="#000"/>
<rect x="51.48" y="224.88" width="1.85" height="1.85" fill="#000"/>
<rect x="54.68" y="224.88" width="1.85" height="1.85" fill="#000"/>
<rect x="57.88" y="224.88" width="1.85" height="1.85" fill="#000"/>
<rect x="52.28" y="228.88" width="1.85" height="1.85" fill="#000"/>
<rect x="54.68" y="229.97" width="1.85" height="1.85" fill="#000"/>
<rect x="57.08" y="231.57" width="1.85" height="1.85" fill="#000"/>
<rect x="54.68" y="233.07" width="1.85" height="1.85" fill="#000"/>
<line x1="34.9" y1="223.9" x2="76.3" y2="223.9" stroke="#000" stroke-width="1.15"/>
<line x1="45.1" y1="222.1" x2="66.1" y2="222.1" stroke="#000" stroke-width="1.0"/>
<line x1="45.1" y1="226.3" x2="66.1" y2="226.3" stroke="#000" stroke-width="1.0"/>
<line x1="55.6" y1="222.1" x2="55.6" y2="226.3" stroke="#000" stroke-width="1.0"/>
<rect x="115.88" y="208.67" width="1.85" height="1.85" fill="#000"/>
<rect x="115.88" y="211.27" width="1.85" height="1.85" fill="#000"/>
<rect x="118.67" y="212.88" width="1.85" height="1.85" fill="#000"/>
<rect x="115.88" y="214.47" width="1.85" height="1.85" fill="#000"/>
<rect x="115.88" y="216.97" width="1.85" height="1.85" fill="#000"/>
<rect x="115.88" y="219.07" width="1.85" height="1.85" fill="#000"/>
<rect x="115.88" y="221.07" width="1.85" height="1.85" fill="#000"/>
<rect x="106.83" y="223.38" width="1.85" height="1.85" fill="#000"/>
<rect x="108.92" y="223.38" width="1.85" height="1.85" fill="#000"/>
<rect x="122.83" y="223.38" width="1.85" height="1.85" fill="#000"/>
<rect x="124.92" y="223.38" width="1.85" height="1.85" fill="#000"/>
<rect x="113.78" y="224.07" width="1.85" height="1.85" fill="#000"/>
<rect x="115.88" y="224.07" width="1.85" height="1.85" fill="#000"/>
<rect x="117.97" y="224.07" width="1.85" height="1.85" fill="#000"/>
<rect x="108.53" y="225.77" width="1.85" height="1.85" fill="#000"/>
<rect x="110.62" y="225.77" width="1.85" height="1.85" fill="#000"/>
<rect x="112.72" y="225.77" width="1.85" height="1.85" fill="#000"/>
<rect x="114.83" y="225.77" width="1.85" height="1.85" fill="#000"/>
<rect x="116.92" y="225.77" width="1.85" height="1.85" fill="#000"/>
<rect x="119.03" y="225.77" width="1.85" height="1.85" fill="#000"/>
<rect x="121.12" y="225.77" width="1.85" height="1.85" fill="#000"/>
<rect x="123.22" y="225.77" width="1.85" height="1.85" fill="#000"/>
<rect x="110.67" y="227.47" width="1.85" height="1.85" fill="#000"/>
<rect x="113.28" y="227.47" width="1.85" height="1.85" fill="#000"/>
<rect x="115.88" y="227.47" width="1.85" height="1.85" fill="#000"/>
<rect x="118.47" y="227.47" width="1.85" height="1.85" fill="#000"/>
<rect x="121.08" y="227.47" width="1.85" height="1.85" fill="#000"/>
<rect x="95.48" y="231.67" width="1.85" height="1.85" fill="#000"/>
<rect x="97.88" y="231.67" width="1.85" height="1.85" fill="#000"/>
<rect x="100.28" y="231.67" width="1.85" height="1.85" fill="#000"/>
<rect x="102.67" y="231.67" width="1.85" height="1.85" fill="#000"/>
<rect x="105.08" y="231.67" width="1.85" height="1.85" fill="#000"/>
<rect x="107.47" y="231.67" width="1.85" height="1.85" fill="#000"/>
<rect x="109.88" y="231.67" width="1.85" height="1.85" fill="#000"/>
<rect x="112.28" y="231.67" width="1.85" height="1.85" fill="#000"/>
<rect x="114.67" y="231.67" width="1.85" height="1.85" fill="#000"/>
<rect x="117.08" y="231.67" width="1.85" height="1.85" fill="#000"/>
<rect x="119.47" y="231.67" width="1.85" height="1.85" fill="#000"/>
<rect x="121.88" y="231.67" width="1.85" height="1.85" fill="#000"/>
<rect x="124.28" y="231.67" width="1.85" height="1.85" fill="#000"/>
<rect x="126.67" y="231.67" width="1.85" height="1.85" fill="#000"/>
<rect x="129.07" y="231.67" width="1.85" height="1.85" fill="#000"/>
<rect x="131.47" y="231.67" width="1.85" height="1.85" fill="#000"/>
<rect x="133.88" y="231.67" width="1.85" height="1.85" fill="#000"/>
<rect x="136.27" y="231.67" width="1.85" height="1.85" fill="#000"/>
<rect x="114.83" y="233.07" width="1.85" height="1.85" fill="#000"/>
<rect x="116.92" y="233.07" width="1.85" height="1.85" fill="#000"/>
<line x1="96.1" y1="227.2" x2="137.5" y2="227.2" stroke="#000" stroke-width="1.15"/>
<line x1="106.3" y1="225.9" x2="127.3" y2="225.9" stroke="#000" stroke-width="1.0"/>
<line x1="106.3" y1="228.6" x2="127.3" y2="228.6" stroke="#000" stroke-width="1.0"/>
<line x1="116.8" y1="225.9" x2="116.8" y2="228.6" stroke="#000" stroke-width="1.0"/>
<text transform="translate(55.3,244.72) scale(1,1.15)" font-size="6.15" font-family="Liberation Sans, sans-serif" font-weight="bold" text-anchor="middle" stroke="#000" stroke-width="0.18" >positive (N=15)</text>
<text transform="translate(117.1,244.72) scale(1,1.15)" font-size="6.15" font-family="Liberation Sans, sans-serif" font-weight="bold" text-anchor="middle" stroke="#000" stroke-width="0.18" >negative (N=46)</text>
<text transform="translate(86.6,253.63) scale(1,1.15)" font-size="6.5" font-family="Liberation Sans, sans-serif" font-weight="bold" text-anchor="middle" stroke="#000" stroke-width="0.18" >Alopecia</text>
<text transform="translate(189.4,145.67) scale(1,1.15)" font-size="7.8" font-family="Liberation Serif, serif" text-anchor="middle" stroke="#000" stroke-width="0.18" >F</text>
<line x1="198.0" y1="153.4" x2="198.0" y2="235.5" stroke="#000" stroke-width="1.0"/>
<line x1="195.8" y1="235.0" x2="198.0" y2="235.0" stroke="#000" stroke-width="0.9"/>
<text transform="translate(194.8,237.81) scale(1,1.15)" font-size="5.9" font-family="Liberation Sans, sans-serif" font-weight="bold" text-anchor="end" stroke="#000" stroke-width="0.18" >0</text>
<line x1="195.8" y1="214.7" x2="198.0" y2="214.7" stroke="#000" stroke-width="0.9"/>
<text transform="translate(194.8,217.53) scale(1,1.15)" font-size="5.9" font-family="Liberation Sans, sans-serif" font-weight="bold" text-anchor="end" stroke="#000" stroke-width="0.18" >50</text>
<line x1="195.8" y1="194.4" x2="198.0" y2="194.4" stroke="#000" stroke-width="0.9"/>
<text transform="translate(194.8,197.26) scale(1,1.15)" font-size="5.9" font-family="Liberation Sans, sans-serif" font-weight="bold" text-anchor="end" stroke="#000" stroke-width="0.18" >100</text>
<line x1="195.8" y1="174.2" x2="198.0" y2="174.2" stroke="#000" stroke-width="0.9"/>
<text transform="translate(194.8,176.98) scale(1,1.15)" font-size="5.9" font-family="Liberation Sans, sans-serif" font-weight="bold" text-anchor="end" stroke="#000" stroke-width="0.18" >150</text>
<line x1="195.8" y1="153.9" x2="198.0" y2="153.9" stroke="#000" stroke-width="0.9"/>
<text transform="translate(194.8,156.71) scale(1,1.15)" font-size="5.9" font-family="Liberation Sans, sans-serif" font-weight="bold" text-anchor="end" stroke="#000" stroke-width="0.18" >200</text>
<text transform="translate(182.0,191.9) rotate(-90)" font-size="6.9" font-family="Liberation Sans, sans-serif" font-weight="bold" text-anchor="middle">sVEGFR-1 (ng/ml)</text>
<line x1="197.5" y1="235.0" x2="321.4" y2="235.0" stroke="#000" stroke-width="1.0"/>
<line x1="228.8" y1="235.0" x2="228.8" y2="236.8" stroke="#000" stroke-width="0.9"/>
<line x1="290.3" y1="235.0" x2="290.3" y2="236.8" stroke="#000" stroke-width="0.9"/>
<line x1="229.2" y1="170.6" x2="291.0" y2="170.6" stroke="#000" stroke-width="1.3"/>
<text transform="translate(260.1,169.08) scale(1,1.15)" font-size="7.9" font-family="Liberation Serif, serif" font-weight="bold" text-anchor="middle" stroke="#000" stroke-width="0.18" >P=0.012</text>
<rect x="228.07" y="174.27" width="1.85" height="1.85" fill="#000"/>
<rect x="227.88" y="208.67" width="1.85" height="1.85" fill="#000"/>
<rect x="225.48" y="211.97" width="1.85" height="1.85" fill="#000"/>
<rect x="227.88" y="211.97" width="1.85" height="1.85" fill="#000"/>
<rect x="227.88" y="214.97" width="1.85" height="1.85" fill="#000"/>
<rect x="228.38" y="217.07" width="1.85" height="1.85" fill="#000"/>
<rect x="225.88" y="218.07" width="1.85" height="1.85" fill="#000"/>
<rect x="227.88" y="220.47" width="1.85" height="1.85" fill="#000"/>
<rect x="230.27" y="220.47" width="1.85" height="1.85" fill="#000"/>
<rect x="225.47" y="223.27" width="1.85" height="1.85" fill="#000"/>
<rect x="227.88" y="223.27" width="1.85" height="1.85" fill="#000"/>
<rect x="230.28" y="223.27" width="1.85" height="1.85" fill="#000"/>
<rect x="225.47" y="225.97" width="1.85" height="1.85" fill="#000"/>
<rect x="227.88" y="225.97" width="1.85" height="1.85" fill="#000"/>
<rect x="230.28" y="225.97" width="1.85" height="1.85" fill="#000"/>
<rect x="232.38" y="226.97" width="1.85" height="1.85" fill="#000"/>
<rect x="223.68" y="228.07" width="1.85" height="1.85" fill="#000"/>
<rect x="227.28" y="228.07" width="1.85" height="1.85" fill="#000"/>
<rect x="230.88" y="228.07" width="1.85" height="1.85" fill="#000"/>
<rect x="225.28" y="229.88" width="1.85" height="1.85" fill="#000"/>
<rect x="228.68" y="229.88" width="1.85" height="1.85" fill="#000"/>
<rect x="232.08" y="229.88" width="1.85" height="1.85" fill="#000"/>
<rect x="225.97" y="231.67" width="1.85" height="1.85" fill="#000"/>
<rect x="230.17" y="231.67" width="1.85" height="1.85" fill="#000"/>
<rect x="227.88" y="233.27" width="1.85" height="1.85" fill="#000"/>
<line x1="208.1" y1="222.4" x2="249.5" y2="222.4" stroke="#000" stroke-width="1.15"/>
<line x1="218.3" y1="220.2" x2="239.3" y2="220.2" stroke="#000" stroke-width="1.0"/>
<line x1="218.3" y1="226.0" x2="239.3" y2="226.0" stroke="#000" stroke-width="1.0"/>
<line x1="228.8" y1="220.2" x2="228.8" y2="226.0" stroke="#000" stroke-width="1.0"/>
<rect x="289.38" y="205.17" width="1.85" height="1.85" fill="#000"/>
<rect x="289.38" y="212.88" width="1.85" height="1.85" fill="#000"/>
<rect x="291.98" y="218.07" width="1.85" height="1.85" fill="#000"/>
<rect x="289.38" y="220.07" width="1.85" height="1.85" fill="#000"/>
<rect x="287.07" y="223.47" width="1.85" height="1.85" fill="#000"/>
<rect x="291.68" y="223.47" width="1.85" height="1.85" fill="#000"/>
<rect x="284.18" y="224.97" width="1.85" height="1.85" fill="#000"/>
<rect x="286.77" y="224.97" width="1.85" height="1.85" fill="#000"/>
<rect x="289.38" y="224.97" width="1.85" height="1.85" fill="#000"/>
<rect x="291.98" y="224.97" width="1.85" height="1.85" fill="#000"/>
<rect x="294.57" y="224.97" width="1.85" height="1.85" fill="#000"/>
<rect x="280.98" y="226.67" width="1.85" height="1.85" fill="#000"/>
<rect x="283.38" y="226.67" width="1.85" height="1.85" fill="#000"/>
<rect x="285.77" y="226.67" width="1.85" height="1.85" fill="#000"/>
<rect x="288.18" y="226.67" width="1.85" height="1.85" fill="#000"/>
<rect x="290.57" y="226.67" width="1.85" height="1.85" fill="#000"/>
<rect x="292.98" y="226.67" width="1.85" height="1.85" fill="#000"/>
<rect x="295.38" y="226.67" width="1.85" height="1.85" fill="#000"/>
<rect x="297.77" y="226.67" width="1.85" height="1.85" fill="#000"/>
<rect x="271.38" y="231.07" width="1.85" height="1.85" fill="#000"/>
<rect x="273.77" y="231.07" width="1.85" height="1.85" fill="#000"/>
<rect x="276.18" y="231.07" width="1.85" height="1.85" fill="#000"/>
<rect x="278.57" y="231.07" width="1.85" height="1.85" fill="#000"/>
<rect x="280.98" y="231.07" width="1.85" height="1.85" fill="#000"/>
<rect x="283.38" y="231.07" width="1.85" height="1.85" fill="#000"/>
<rect x="285.77" y="231.07" width="1.85" height="1.85" fill="#000"/>
<rect x="288.18" y="231.07" width="1.85" height="1.85" fill="#000"/>
<rect x="290.57" y="231.07" width="1.85" height="1.85" fill="#000"/>
<rect x="292.98" y="231.07" width="1.85" height="1.85" fill="#000"/>
<rect x="295.38" y="231.07" width="1.85" height="1.85" fill="#000"/>
<rect x="297.77" y="231.07" width="1.85" height="1.85" fill="#000"/>
<rect x="300.18" y="231.07" width="1.85" height="1.85" fill="#000"/>
<rect x="302.57" y="231.07" width="1.85" height="1.85" fill="#000"/>
<rect x="304.98" y="231.07" width="1.85" height="1.85" fill="#000"/>
<rect x="307.38" y="231.07" width="1.85" height="1.85" fill="#000"/>
<rect x="288.32" y="232.77" width="1.85" height="1.85" fill="#000"/>
<rect x="290.43" y="232.77" width="1.85" height="1.85" fill="#000"/>
<line x1="269.6" y1="228.3" x2="311.0" y2="228.3" stroke="#000" stroke-width="1.15"/>
<line x1="279.8" y1="227.0" x2="300.8" y2="227.0" stroke="#000" stroke-width="1.0"/>
<line x1="279.8" y1="229.7" x2="300.8" y2="229.7" stroke="#000" stroke-width="1.0"/>
<line x1="290.3" y1="227.0" x2="290.3" y2="229.7" stroke="#000" stroke-width="1.0"/>
<text transform="translate(228.5,244.02) scale(1,1.15)" font-size="6.15" font-family="Liberation Sans, sans-serif" font-weight="bold" text-anchor="middle" stroke="#000" stroke-width="0.18" >positive (N=24)</text>
<text transform="translate(290.6,244.02) scale(1,1.15)" font-size="6.15" font-family="Liberation Sans, sans-serif" font-weight="bold" text-anchor="middle" stroke="#000" stroke-width="0.18" >negative (N=37)</text>
<text transform="translate(259.8,252.93) scale(1,1.15)" font-size="6.5" font-family="Liberation Sans, sans-serif" font-weight="bold" text-anchor="middle" stroke="#000" stroke-width="0.18" >ds-DNA</text>
<text transform="translate(365.5,145.67) scale(1,1.15)" font-size="7.8" font-family="Liberation Serif, serif" font-weight="bold" text-anchor="middle" stroke="#000" stroke-width="0.18" >G</text>
<line x1="373.2" y1="153.7" x2="373.2" y2="235.3" stroke="#000" stroke-width="1.0"/>
<line x1="371.0" y1="234.8" x2="373.2" y2="234.8" stroke="#000" stroke-width="0.9"/>
<text transform="translate(370.0,237.61) scale(1,1.15)" font-size="5.9" font-family="Liberation Sans, sans-serif" font-weight="bold" text-anchor="end" stroke="#000" stroke-width="0.18" >0</text>
<line x1="371.0" y1="214.7" x2="373.2" y2="214.7" stroke="#000" stroke-width="0.9"/>
<text transform="translate(370.0,217.46) scale(1,1.15)" font-size="5.9" font-family="Liberation Sans, sans-serif" font-weight="bold" text-anchor="end" stroke="#000" stroke-width="0.18" >50</text>
<line x1="371.0" y1="194.5" x2="373.2" y2="194.5" stroke="#000" stroke-width="0.9"/>
<text transform="translate(370.0,197.31) scale(1,1.15)" font-size="5.9" font-family="Liberation Sans, sans-serif" font-weight="bold" text-anchor="end" stroke="#000" stroke-width="0.18" >100</text>
<line x1="371.0" y1="174.3" x2="373.2" y2="174.3" stroke="#000" stroke-width="0.9"/>
<text transform="translate(370.0,177.16) scale(1,1.15)" font-size="5.9" font-family="Liberation Sans, sans-serif" font-weight="bold" text-anchor="end" stroke="#000" stroke-width="0.18" >150</text>
<line x1="371.0" y1="154.2" x2="373.2" y2="154.2" stroke="#000" stroke-width="0.9"/>
<text transform="translate(370.0,157.01) scale(1,1.15)" font-size="5.9" font-family="Liberation Sans, sans-serif" font-weight="bold" text-anchor="end" stroke="#000" stroke-width="0.18" >200</text>
<text transform="translate(357.0,192.0) rotate(-90)" font-size="6.9" font-family="Liberation Sans, sans-serif" font-weight="bold" text-anchor="middle">sVEGFR-1 (ng/ml)</text>
<line x1="372.7" y1="234.8" x2="496.8" y2="234.8" stroke="#000" stroke-width="1.0"/>
<line x1="404.3" y1="234.8" x2="404.3" y2="236.6" stroke="#000" stroke-width="0.9"/>
<line x1="465.6" y1="234.8" x2="465.6" y2="236.6" stroke="#000" stroke-width="0.9"/>
<line x1="404.5" y1="171.0" x2="466.6" y2="171.0" stroke="#000" stroke-width="1.3"/>
<text transform="translate(437.4,169.48) scale(1,1.15)" font-size="7.9" font-family="Liberation Serif, serif" font-weight="bold" text-anchor="middle" stroke="#000" stroke-width="0.18" >P=0.017</text>
<rect x="403.07" y="174.27" width="1.85" height="1.85" fill="#000"/>
<rect x="403.38" y="208.27" width="1.85" height="1.85" fill="#000"/>
<rect x="400.98" y="211.97" width="1.85" height="1.85" fill="#000"/>
<rect x="403.38" y="211.97" width="1.85" height="1.85" fill="#000"/>
<rect x="401.27" y="218.67" width="1.85" height="1.85" fill="#000"/>
<rect x="403.48" y="218.67" width="1.85" height="1.85" fill="#000"/>
<rect x="403.77" y="221.67" width="1.85" height="1.85" fill="#000"/>
<rect x="401.07" y="224.88" width="1.85" height="1.85" fill="#000"/>
<rect x="403.38" y="224.88" width="1.85" height="1.85" fill="#000"/>
<rect x="405.68" y="224.88" width="1.85" height="1.85" fill="#000"/>
<rect x="398.48" y="226.67" width="1.85" height="1.85" fill="#000"/>
<rect x="401.07" y="226.67" width="1.85" height="1.85" fill="#000"/>
<rect x="403.68" y="226.67" width="1.85" height="1.85" fill="#000"/>
<rect x="406.27" y="226.67" width="1.85" height="1.85" fill="#000"/>
<rect x="400.27" y="229.07" width="1.85" height="1.85" fill="#000"/>
<rect x="403.88" y="229.07" width="1.85" height="1.85" fill="#000"/>
<rect x="407.48" y="229.07" width="1.85" height="1.85" fill="#000"/>
<rect x="403.27" y="230.77" width="1.85" height="1.85" fill="#000"/>
<rect x="405.88" y="230.77" width="1.85" height="1.85" fill="#000"/>
<rect x="402.38" y="232.07" width="1.85" height="1.85" fill="#000"/>
<line x1="383.6" y1="221.3" x2="425.0" y2="221.3" stroke="#000" stroke-width="1.15"/>
<line x1="393.8" y1="218.2" x2="414.8" y2="218.2" stroke="#000" stroke-width="1.0"/>
<line x1="393.8" y1="224.7" x2="414.8" y2="224.7" stroke="#000" stroke-width="1.0"/>
<line x1="404.3" y1="218.2" x2="404.3" y2="224.7" stroke="#000" stroke-width="1.0"/>
<rect x="464.68" y="204.88" width="1.85" height="1.85" fill="#000"/>
<rect x="467.07" y="212.57" width="1.85" height="1.85" fill="#000"/>
<rect x="464.68" y="214.97" width="1.85" height="1.85" fill="#000"/>
<rect x="464.68" y="217.27" width="1.85" height="1.85" fill="#000"/>
<rect x="467.07" y="218.77" width="1.85" height="1.85" fill="#000"/>
<rect x="464.68" y="220.38" width="1.85" height="1.85" fill="#000"/>
<rect x="456.28" y="223.07" width="1.85" height="1.85" fill="#000"/>
<rect x="460.48" y="223.07" width="1.85" height="1.85" fill="#000"/>
<rect x="464.68" y="223.07" width="1.85" height="1.85" fill="#000"/>
<rect x="468.88" y="223.07" width="1.85" height="1.85" fill="#000"/>
<rect x="473.07" y="223.07" width="1.85" height="1.85" fill="#000"/>
<rect x="456.28" y="224.97" width="1.85" height="1.85" fill="#000"/>
<rect x="458.68" y="224.97" width="1.85" height="1.85" fill="#000"/>
<rect x="461.07" y="224.97" width="1.85" height="1.85" fill="#000"/>
<rect x="463.48" y="224.97" width="1.85" height="1.85" fill="#000"/>
<rect x="465.88" y="224.97" width="1.85" height="1.85" fill="#000"/>
<rect x="468.28" y="224.97" width="1.85" height="1.85" fill="#000"/>
<rect x="470.68" y="224.97" width="1.85" height="1.85" fill="#000"/>
<rect x="473.07" y="224.97" width="1.85" height="1.85" fill="#000"/>
<rect x="455.88" y="226.77" width="1.85" height="1.85" fill="#000"/>
<rect x="458.07" y="226.77" width="1.85" height="1.85" fill="#000"/>
<rect x="460.28" y="226.77" width="1.85" height="1.85" fill="#000"/>
<rect x="462.48" y="226.77" width="1.85" height="1.85" fill="#000"/>
<rect x="464.68" y="226.77" width="1.85" height="1.85" fill="#000"/>
<rect x="466.88" y="226.77" width="1.85" height="1.85" fill="#000"/>
<rect x="469.07" y="226.77" width="1.85" height="1.85" fill="#000"/>
<rect x="471.28" y="226.77" width="1.85" height="1.85" fill="#000"/>
<rect x="473.48" y="226.77" width="1.85" height="1.85" fill="#000"/>
<rect x="444.68" y="230.57" width="1.85" height="1.85" fill="#000"/>
<rect x="447.18" y="230.57" width="1.85" height="1.85" fill="#000"/>
<rect x="449.68" y="230.57" width="1.85" height="1.85" fill="#000"/>
<rect x="452.18" y="230.57" width="1.85" height="1.85" fill="#000"/>
<rect x="454.68" y="230.57" width="1.85" height="1.85" fill="#000"/>
<rect x="457.18" y="230.57" width="1.85" height="1.85" fill="#000"/>
<rect x="459.68" y="230.57" width="1.85" height="1.85" fill="#000"/>
<rect x="462.18" y="230.57" width="1.85" height="1.85" fill="#000"/>
<rect x="464.68" y="230.57" width="1.85" height="1.85" fill="#000"/>
<rect x="467.18" y="230.57" width="1.85" height="1.85" fill="#000"/>
<rect x="469.68" y="230.57" width="1.85" height="1.85" fill="#000"/>
<rect x="472.18" y="230.57" width="1.85" height="1.85" fill="#000"/>
<rect x="474.68" y="230.57" width="1.85" height="1.85" fill="#000"/>
<rect x="477.18" y="230.57" width="1.85" height="1.85" fill="#000"/>
<rect x="479.68" y="230.57" width="1.85" height="1.85" fill="#000"/>
<rect x="482.18" y="230.57" width="1.85" height="1.85" fill="#000"/>
<rect x="484.68" y="230.57" width="1.85" height="1.85" fill="#000"/>
<rect x="464.68" y="232.38" width="1.85" height="1.85" fill="#000"/>
<line x1="444.9" y1="227.5" x2="486.3" y2="227.5" stroke="#000" stroke-width="1.15"/>
<line x1="455.1" y1="226.2" x2="476.1" y2="226.2" stroke="#000" stroke-width="1.0"/>
<line x1="455.1" y1="228.9" x2="476.1" y2="228.9" stroke="#000" stroke-width="1.0"/>
<line x1="465.6" y1="226.2" x2="465.6" y2="228.9" stroke="#000" stroke-width="1.0"/>
<text transform="translate(404.0,243.52) scale(1,1.15)" font-size="6.15" font-family="Liberation Sans, sans-serif" font-weight="bold" text-anchor="middle" stroke="#000" stroke-width="0.18" >positive (N=19)</text>
<text transform="translate(465.9,243.52) scale(1,1.15)" font-size="6.15" font-family="Liberation Sans, sans-serif" font-weight="bold" text-anchor="middle" stroke="#000" stroke-width="0.18" >negative (N=42)</text>
<text transform="translate(434.8,252.93) scale(1,1.15)" font-size="6.5" font-family="Liberation Sans, sans-serif" font-weight="bold" text-anchor="middle" stroke="#000" stroke-width="0.18" >Hematuria</text>
<text transform="translate(537.6,145.97) scale(1,1.15)" font-size="7.8" font-family="Liberation Serif, serif" font-weight="bold" text-anchor="middle" stroke="#000" stroke-width="0.18" >H</text>
<text transform="translate(589.8,146.68) scale(1,1.15)" font-size="8.0" font-family="Liberation Serif, serif" font-weight="bold" text-anchor="middle" stroke="#000" stroke-width="0.18" >SLE vs HC</text>
<rect x="547.1" y="151.3" width="85.19999999999993" height="84.19999999999999" fill="none" stroke="#000" stroke-width="1"/>
<line x1="544.9" y1="235.5" x2="547.1" y2="235.5" stroke="#000" stroke-width="0.9"/>
<text transform="translate(544.1,238.31) scale(1,1.15)" font-size="5.9" font-family="Liberation Sans, sans-serif" font-weight="bold" text-anchor="end" stroke="#000" stroke-width="0.18" >0</text>
<line x1="547.1" y1="235.5" x2="547.1" y2="237.7" stroke="#000" stroke-width="0.9"/>
<text transform="translate(547.1,243.71) scale(1,1.15)" font-size="5.9" font-family="Liberation Sans, sans-serif" font-weight="bold" text-anchor="middle" stroke="#000" stroke-width="0.18" >0</text>
<line x1="544.9" y1="218.7" x2="547.1" y2="218.7" stroke="#000" stroke-width="0.9"/>
<text transform="translate(544.1,221.47) scale(1,1.15)" font-size="5.9" font-family="Liberation Sans, sans-serif" font-weight="bold" text-anchor="end" stroke="#000" stroke-width="0.18" >20</text>
<line x1="564.1" y1="235.5" x2="564.1" y2="237.7" stroke="#000" stroke-width="0.9"/>
<text transform="translate(564.1,243.71) scale(1,1.15)" font-size="5.9" font-family="Liberation Sans, sans-serif" font-weight="bold" text-anchor="middle" stroke="#000" stroke-width="0.18" >20</text>
<line x1="544.9" y1="201.8" x2="547.1" y2="201.8" stroke="#000" stroke-width="0.9"/>
<text transform="translate(544.1,204.63) scale(1,1.15)" font-size="5.9" font-family="Liberation Sans, sans-serif" font-weight="bold" text-anchor="end" stroke="#000" stroke-width="0.18" >40</text>
<line x1="581.2" y1="235.5" x2="581.2" y2="237.7" stroke="#000" stroke-width="0.9"/>
<text transform="translate(581.2,243.71) scale(1,1.15)" font-size="5.9" font-family="Liberation Sans, sans-serif" font-weight="bold" text-anchor="middle" stroke="#000" stroke-width="0.18" >40</text>
<line x1="544.9" y1="185.0" x2="547.1" y2="185.0" stroke="#000" stroke-width="0.9"/>
<text transform="translate(544.1,187.79) scale(1,1.15)" font-size="5.9" font-family="Liberation Sans, sans-serif" font-weight="bold" text-anchor="end" stroke="#000" stroke-width="0.18" >60</text>
<line x1="598.2" y1="235.5" x2="598.2" y2="237.7" stroke="#000" stroke-width="0.9"/>
<text transform="translate(598.2,243.71) scale(1,1.15)" font-size="5.9" font-family="Liberation Sans, sans-serif" font-weight="bold" text-anchor="middle" stroke="#000" stroke-width="0.18" >60</text>
<line x1="544.9" y1="168.1" x2="547.1" y2="168.1" stroke="#000" stroke-width="0.9"/>
<text transform="translate(544.1,170.95) scale(1,1.15)" font-size="5.9" font-family="Liberation Sans, sans-serif" font-weight="bold" text-anchor="end" stroke="#000" stroke-width="0.18" >80</text>
<line x1="615.3" y1="235.5" x2="615.3" y2="237.7" stroke="#000" stroke-width="0.9"/>
<text transform="translate(615.3,243.71) scale(1,1.15)" font-size="5.9" font-family="Liberation Sans, sans-serif" font-weight="bold" text-anchor="middle" stroke="#000" stroke-width="0.18" >80</text>
<line x1="544.9" y1="151.3" x2="547.1" y2="151.3" stroke="#000" stroke-width="0.9"/>
<text transform="translate(544.1,154.11) scale(1,1.15)" font-size="5.9" font-family="Liberation Sans, sans-serif" font-weight="bold" text-anchor="end" stroke="#000" stroke-width="0.18" >100</text>
<line x1="632.3" y1="235.5" x2="632.3" y2="237.7" stroke="#000" stroke-width="0.9"/>
<text transform="translate(632.3,243.71) scale(1,1.15)" font-size="5.9" font-family="Liberation Sans, sans-serif" font-weight="bold" text-anchor="middle" stroke="#000" stroke-width="0.18" >100</text>
<text transform="translate(589.8,168.17) scale(1,1.15)" font-size="7.7" font-family="Liberation Serif, serif" font-weight="bold" text-anchor="middle" stroke="#000" stroke-width="0.18" >AUC=0.615</text>
<text transform="translate(589.8,177.58) scale(1,1.15)" font-size="7.9" font-family="Liberation Serif, serif" font-weight="bold" text-anchor="middle" stroke="#000" stroke-width="0.18" >95%CI: 0.511-0.720</text>
<text transform="translate(589.8,254.56) scale(1,1.15)" font-size="7.5" font-family="Liberation Serif, serif" font-weight="bold" text-anchor="middle" stroke="#000" stroke-width="0.18" >1 - Specificity%</text>
<text transform="translate(530.4,193.5) rotate(-90)" font-size="7.4" font-family="Liberation Serif, serif" font-weight="bold" text-anchor="middle">Sensitivity%</text>
<polyline fill="none" stroke="#000" stroke-width="1.0" stroke-linejoin="miter" points="554.9,235.6 555.1,233.7 555.7,233.7 556.0,232.9 556.8,232.9 557.3,231.8 559.0,231.8 559.3,230.7 560.3,230.7 561.0,229.6 563.0,229.6 563.4,228.5 564.4,228.5 564.9,227.5 566.6,227.5 566.8,226.4 567.6,226.4 568.2,225.3 569.8,225.3 570.1,224.2 571.2,224.2 571.5,223.1 572.5,223.1 572.9,221.5 573.9,221.5 574.1,219.9 574.7,219.9 574.9,217.7 575.5,217.7 575.6,216.1 576.0,216.1 576.0,210.1 580.1,210.1 580.2,205.2 580.4,205.2 580.4,202.0 580.7,202.0 581.0,200.4 582.0,200.4 582.2,199.3 582.8,199.3 583.3,198.5 584.7,198.5 585.1,197.6 586.1,197.6 586.1,194.4 586.3,194.4 586.4,191.7 586.6,191.7 587.0,190.1 588.2,190.1 588.6,189.5 589.6,189.5 590.1,187.9 591.5,187.9 591.7,186.3 592.3,186.3 592.5,184.9 593.1,184.9 593.6,183.8 595.0,183.8 595.4,183.0 596.4,183.0 596.8,181.4 598.3,181.4 598.9,180.8 601.0,180.8 601.7,180.3 603.7,180.3 604.7,180.0 607.8,180.0 609.1,179.8 613.2,179.8 614.2,179.2 617.2,179.2 617.9,178.9 619.9,178.9 631.7,178.9"/>
</g>
</svg>
</body></html>
